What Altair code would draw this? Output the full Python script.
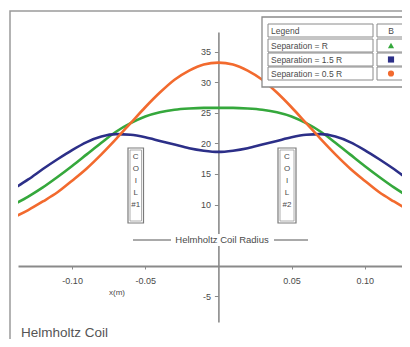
import altair as alt
import pandas as pd

# ---- data ----
x_m = [-0.14, -0.13, -0.12, -0.11, -0.10, -0.09, -0.08, -0.07, -0.06, -0.05, -0.04, -0.03, -0.02, -0.01,
       0.00, 0.01, 0.02, 0.03, 0.04, 0.05, 0.06, 0.07, 0.08, 0.09, 0.10, 0.11, 0.12, 0.13, 0.14]
sep_r = [10.0, 11.3, 12.8, 14.5, 16.3, 18.2, 20.1, 21.9, 23.3, 24.4, 25.1, 25.5, 25.7, 25.8,
         25.8, 25.8, 25.7, 25.5, 25.1, 24.4, 23.3, 21.9, 20.1, 18.2, 16.3, 14.5, 12.8, 11.3, 10.0]
sep_15r = [12.6, 14.1, 15.8, 17.4, 18.9, 20.2, 21.1, 21.5, 21.4, 21.0, 20.4, 19.8, 19.2, 18.8,
           18.6, 18.8, 19.2, 19.8, 20.4, 21.0, 21.4, 21.5, 21.1, 20.2, 18.9, 17.4, 15.8, 14.1, 12.6]
sep_05r = [7.9, 9.1, 10.5, 12.0, 13.9, 15.9, 18.2, 20.7, 23.3, 25.9, 28.3, 30.4, 31.9, 32.9,
           33.2, 32.9, 31.9, 30.4, 28.3, 25.9, 23.3, 20.7, 18.2, 15.9, 13.9, 12.0, 10.5, 9.1, 7.9]

series_names = ["Separation = R", "Separation = 1.5 R", "Separation = 0.5 R"]
series_colors = ["#35a83c", "#2c2f88", "#f26a2e"]
series_shapes = ["triangle-up", "square", "circle"]
x_ticks = [-0.10, -0.05, 0.05, 0.10]
y_ticks = [-5, 10, 15, 20, 25, 30, 35]
legend_header = ["Legend", "B"]
coil_labels = ["C\nO\nI\nL\n#1", "C\nO\nI\nL\n#2"]
radius_label = "Helmholtz Coil Radius"
x_label = "x(m)"
caption = "Helmholtz Coil"

rows = []
for name, vals in zip(series_names, [sep_r, sep_15r, sep_05r]):
    for xv, yv in zip(x_m, vals):
        rows.append({"x": xv, "B": yv, "series": name})
df = pd.DataFrame(rows)
one = pd.DataFrame({"k": [0]})

FONT = "Liberation Sans"
GRAY = "#8a8a8a"
TXT = "#4a4a4a"

PW, PH = 384, 290
xscale = alt.Scale(domain=[-0.137, -0.137 + PW / 392 * 0.268], nice=False, zero=False)
yscale = alt.Scale(domain=[-9.2, 38.2], nice=False, zero=False)

hyphen_expr = "(datum.value < 0 ? '-' : '') + format(abs(datum.value), '{f}')"

frame = alt.Chart(one).mark_rect(fillOpacity=0, stroke="#9a9a9a", strokeWidth=1.5, clip=False).encode(
    x=alt.value(-8), x2=alt.value(420), y=alt.value(-21), y2=alt.value(340))

lines = alt.Chart(df).mark_line(strokeWidth=2.6, clip=True, interpolate="monotone").encode(
    x=alt.X("x:Q", scale=xscale,
            axis=alt.Axis(values=x_ticks, labelExpr=hyphen_expr.format(f=".2f"), offset=-56, title=None,
                          grid=False, domainColor=GRAY, domainWidth=2.2, tickColor=GRAY, tickSize=3,
                          labelPadding=7, labelFont=FONT, labelFontSize=9, labelColor=TXT)),
    y=alt.Y("B:Q", scale=yscale,
            axis=alt.Axis(values=y_ticks, labelExpr=hyphen_expr.format(f="d"), offset=-200.4, title=None,
                          grid=False, domainColor=GRAY, domainWidth=1.6, tickColor=GRAY, tickSize=4,
                          labelPadding=4, labelFont=FONT, labelFontSize=9, labelColor=TXT)),
    color=alt.Color("series:N", scale=alt.Scale(domain=series_names, range=series_colors), legend=None),
)

layers = [frame, lines]

# coil boxes
for (x0, x1), lab in zip([(110, 125.5), (260, 278)], coil_labels):
    layers.append(alt.Chart(one).mark_rect(fill="white", stroke="#7a7a7a", strokeWidth=1.2).encode(
        x=alt.value(x0), x2=alt.value(x1), y=alt.value(116), y2=alt.value(191)))
    layers.append(alt.Chart(one).mark_rect(fillOpacity=0, stroke="#9a9a9a", strokeWidth=0.8).encode(
        x=alt.value(x0 + 2), x2=alt.value(x1 - 2), y=alt.value(118), y2=alt.value(189)))
    layers.append(alt.Chart(one).mark_text(text=lab, lineBreak="\n", lineHeight=12, font=FONT,
                                           fontSize=8, color=TXT, align="center", baseline="top").encode(
        x=alt.value((x0 + x1) / 2), y=alt.value(121)))

# coil radius marker
layers.append(alt.Chart(one).mark_rule(color="#555", strokeWidth=1).encode(
    x=alt.value(115), x2=alt.value(290), y=alt.value(208)))
layers.append(alt.Chart(one).mark_rect(fill="white").encode(
    x=alt.value(153), x2=alt.value(256), y=alt.value(202), y2=alt.value(214)))
layers.append(alt.Chart(one).mark_text(text=radius_label, font=FONT, fontSize=9.5, color=TXT,
                                       align="center", baseline="middle").encode(
    x=alt.value(204), y=alt.value(208)))

# x label and caption
layers.append(alt.Chart(one).mark_text(text=x_label, font=FONT, fontSize=8, color=TXT,
                                       align="center", baseline="middle").encode(
    x=alt.value(99), y=alt.value(261)))
layers.append(alt.Chart(one).mark_text(text=caption, font=FONT, fontSize=13.5, color="#555",
                                       align="left", baseline="alphabetic", clip=False).encode(
    x=alt.value(3), y=alt.value(305)))

# legend table
layers.append(alt.Chart(one).mark_rect(fill="white", stroke="#8a8a8a", strokeWidth=1.3).encode(
    x=alt.value(244), x2=alt.value(392), y=alt.value(-15), y2=alt.value(55)))
row_tops = [-8, 7, 21, 35]
row_h = 13
for i, top in enumerate(row_tops):
    for (c0, c1) in [(250, 355), (359, 387)]:
        layers.append(alt.Chart(one).mark_rect(fill="white", stroke="#8a8a8a", strokeWidth=1).encode(
            x=alt.value(c0), x2=alt.value(c1), y=alt.value(top), y2=alt.value(top + row_h)))
    label = legend_header[0] if i == 0 else series_names[i - 1]
    layers.append(alt.Chart(one).mark_text(text=label, font=FONT, fontSize=8.5, color=TXT,
                                           align="left", baseline="middle").encode(
        x=alt.value(253), y=alt.value(top + row_h / 2)))
    if i == 0:
        layers.append(alt.Chart(one).mark_text(text=legend_header[1], font=FONT, fontSize=8.5, color=TXT,
                                               align="center", baseline="middle").encode(
            x=alt.value(373), y=alt.value(top + row_h / 2)))
    else:
        layers.append(alt.Chart(one).mark_point(shape=series_shapes[i - 1], filled=True, size=38,
                                                color=series_colors[i - 1], opacity=1).encode(
            x=alt.value(373), y=alt.value(top + row_h / 2)))

chart = alt.layer(*layers).properties(
    width=PW, height=PH,
    autosize=alt.AutoSizeParams(type="none"),
    padding={"left": 10, "top": 24, "right": 0, "bottom": 17},
    background="white",
).configure_view(stroke=None)

chart.save("out.html", embed_options={"renderer": "svg", "actions": False})
